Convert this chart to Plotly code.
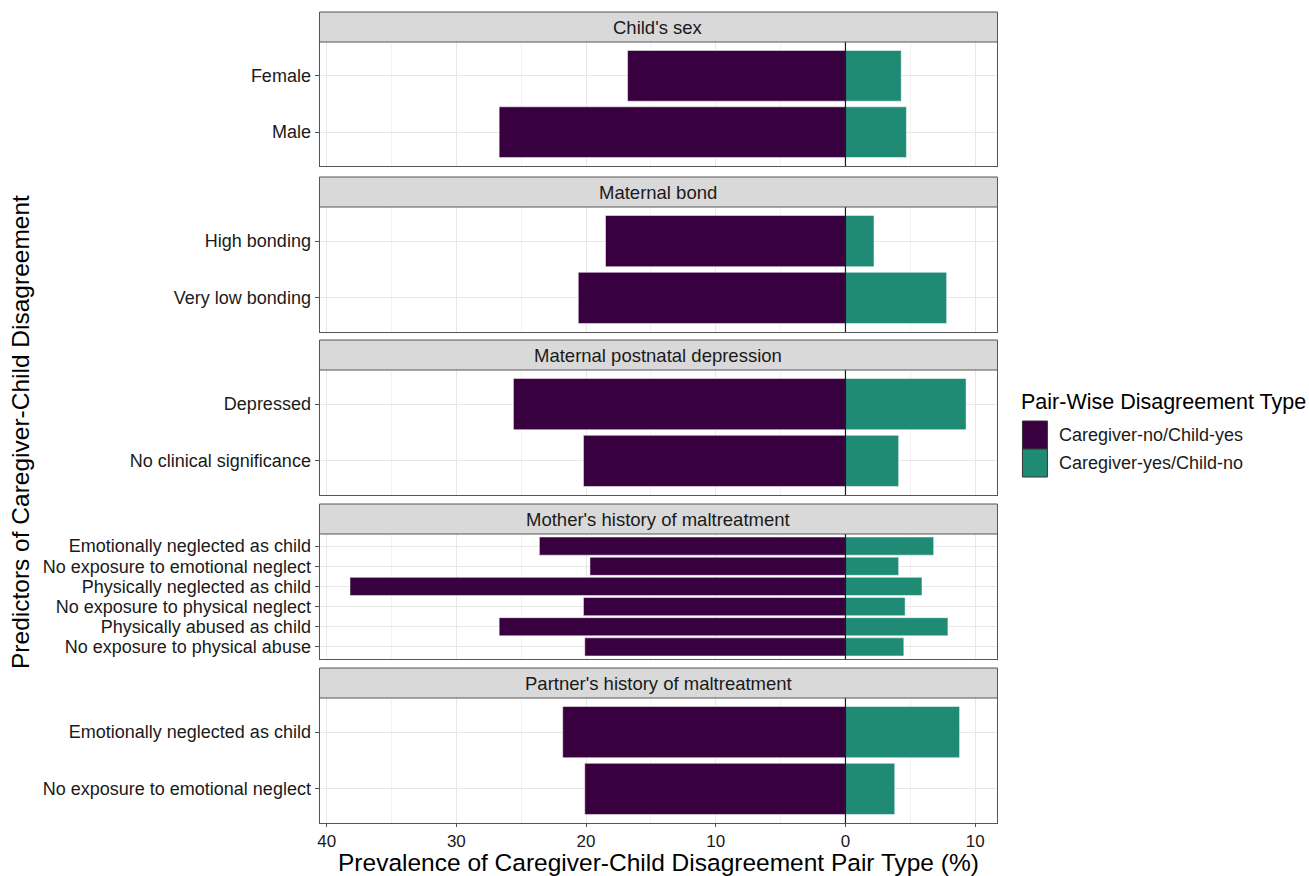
import plotly.graph_objects as go

# ---- data -------------------------------------------------------------
panels = [
    "Child's sex",
    "Maternal bond",
    "Maternal postnatal depression",
    "Mother's history of maltreatment",
    "Partner's history of maltreatment",
]
categories = [
    ["Female", "Male"],
    ["High bonding", "Very low bonding"],
    ["Depressed", "No clinical significance"],
    ["Emotionally neglected as child", "No exposure to emotional neglect",
     "Physically neglected as child", "No exposure to physical neglect",
     "Physically abused as child", "No exposure to physical abuse"],
    ["Emotionally neglected as child", "No exposure to emotional neglect"],
]
caregiver_no_child_yes = [
    [16.8, 26.7],
    [18.5, 20.6],
    [25.6, 20.2],
    [23.6, 19.7, 38.2, 20.2, 26.7, 20.1],
    [21.8, 20.1],
]
caregiver_yes_child_no = [
    [4.3, 4.7],
    [2.2, 7.8],
    [9.3, 4.1],
    [6.8, 4.1, 5.9, 4.6, 7.9, 4.5],
    [8.8, 3.8],
]
series_names = ["Caregiver-no/Child-yes", "Caregiver-yes/Child-no"]
x_tick_values = [-40, -30, -20, -10, 0, 10]
x_tick_labels = ["40", "30", "20", "10", "0", "10"]

# ---- styling ----------------------------------------------------------
W, H = 1309, 876
PURPLE = "#38003F"
TEAL = "#1F8B75"
FONT = "Liberation Sans"
BORDER = "#555555"
GRID = "#E8E8E8"

# panel geometry in pixels
x_left, x_right = 318, 997
strip_tops = [12, 177, 340, 504, 668]
plot_tops = [42, 207, 370, 534, 698]
plot_bottoms = [166, 332, 495, 659, 823]


def px(x):
    return x / W


def py(y):
    return 1 - y / H


x_range = [-40.55, 11.72]

fig = go.Figure()
layout = dict(
    width=W, height=H,
    margin=dict(l=0, r=0, t=0, b=0),
    paper_bgcolor="white", plot_bgcolor="white",
    barmode="relative", bargap=0.1,
    showlegend=False,
    font=dict(family=FONT, color="#1A1A1A"),
)
shapes = []
annotations = []

for i, (title, cats) in enumerate(zip(panels, categories)):
    n = i + 1
    xa = "x" if n == 1 else f"x{n}"
    ya = "y" if n == 1 else f"y{n}"
    neg = [-v for v in caregiver_no_child_yes[i]]
    pos = caregiver_yes_child_no[i]
    fig.add_trace(go.Bar(
        y=cats, x=neg, orientation="h", name=series_names[0],
        marker=dict(color=PURPLE, line=dict(color="white", width=0.5)),
        width=0.9, xaxis=xa, yaxis=ya,
    ))
    fig.add_trace(go.Bar(
        y=cats, x=pos, orientation="h", name=series_names[1],
        marker=dict(color=TEAL, line=dict(color="white", width=0.5)),
        width=0.9, xaxis=xa, yaxis=ya,
    ))

    k = len(cats)
    last = i == len(panels) - 1
    xkey = "xaxis" if n == 1 else f"xaxis{n}"
    ykey = "yaxis" if n == 1 else f"yaxis{n}"
    layout[xkey] = dict(
        domain=[px(x_left), px(x_right)], anchor=ya,
        range=x_range, tickmode="array",
        tickvals=x_tick_values, ticktext=x_tick_labels,
        showticklabels=last, ticks="outside" if last else "",
        ticklen=3, tickcolor=BORDER, tickwidth=1,
        tickfont=dict(size=17, color="#1A1A1A", family=FONT),
        showgrid=True, gridcolor=GRID, gridwidth=1.2,
        minor=dict(tickvals=[-35, -25, -15, -5, 5], showgrid=True,
                   gridcolor="#F2F2F2", gridwidth=0.7),
        zeroline=False,
        showline=True, mirror=True, linecolor=BORDER, linewidth=1,
    )
    if n > 1:
        layout[xkey]["matches"] = "x"
    layout[ykey] = dict(
        domain=[py(plot_bottoms[i]), py(plot_tops[i])], anchor=xa,
        type="category", categoryorder="array", categoryarray=cats,
        tickmode="array", tickvals=cats, ticktext=cats,
        range=[k - 1 + 0.6, -0.6],
        ticks="outside", ticklen=4, tickcolor=BORDER, tickwidth=1,
        tickfont=dict(size=18, color="#1A1A1A", family=FONT),
        showgrid=True, gridcolor=GRID, gridwidth=1.2,
        zeroline=False,
        showline=True, mirror=True, linecolor=BORDER, linewidth=1,
    )

    # zero reference line
    shapes.append(dict(
        type="line", xref=xa, yref=f"{ya} domain", x0=0, x1=0, y0=0, y1=1,
        line=dict(color="#1A1A1A", width=1.2), layer="above",
    ))
    # facet strip
    shapes.append(dict(
        type="rect", xref="paper", yref="paper",
        x0=px(x_left), x1=px(x_right),
        y0=py(plot_tops[i]), y1=py(strip_tops[i]),
        fillcolor="#D9D9D9", line=dict(color=BORDER, width=1), layer="above",
    ))
    annotations.append(dict(
        text=title, xref="paper", yref="paper",
        x=px((x_left + x_right) / 2), y=py((strip_tops[i] + plot_tops[i]) / 2),
        xanchor="center", yanchor="middle", showarrow=False,
        font=dict(size=18.5, color="#1A1A1A", family=FONT),
    ))

# axis titles
annotations.append(dict(
    text="Prevalence of Caregiver-Child Disagreement Pair Type (%)",
    xref="paper", yref="paper", x=px((x_left + x_right) / 2), y=py(862),
    xanchor="center", yanchor="middle", showarrow=False,
    font=dict(size=24.5, color="#000000", family=FONT),
))
annotations.append(dict(
    text="Predictors of Caregiver-Child Disagreement",
    xref="paper", yref="paper", x=px(18), y=py(432), textangle=-90,
    xanchor="center", yanchor="middle", showarrow=False,
    font=dict(size=24.5, color="#000000", family=FONT),
))

# legend
annotations.append(dict(
    text="Pair-Wise Disagreement Type", xref="paper", yref="paper",
    x=px(1019), y=py(402), xanchor="left", yanchor="middle", showarrow=False,
    font=dict(size=21.5, color="#000000", family=FONT),
))
key_tops = [421, 449]
for name, color, top in zip(series_names, [PURPLE, TEAL], key_tops):
    shapes.append(dict(
        type="rect", xref="paper", yref="paper",
        x0=px(1022), x1=px(1047), y0=py(top + 28), y1=py(top),
        fillcolor=color, line=dict(color="#333333", width=1),
    ))
    annotations.append(dict(
        text=name, xref="paper", yref="paper",
        x=px(1057), y=py(top + 14), xanchor="left", yanchor="middle",
        showarrow=False, font=dict(size=18, color="#1A1A1A", family=FONT),
    ))

layout["shapes"] = shapes
layout["annotations"] = annotations
fig.update_layout(**layout)
fig.write_html("out.html")
